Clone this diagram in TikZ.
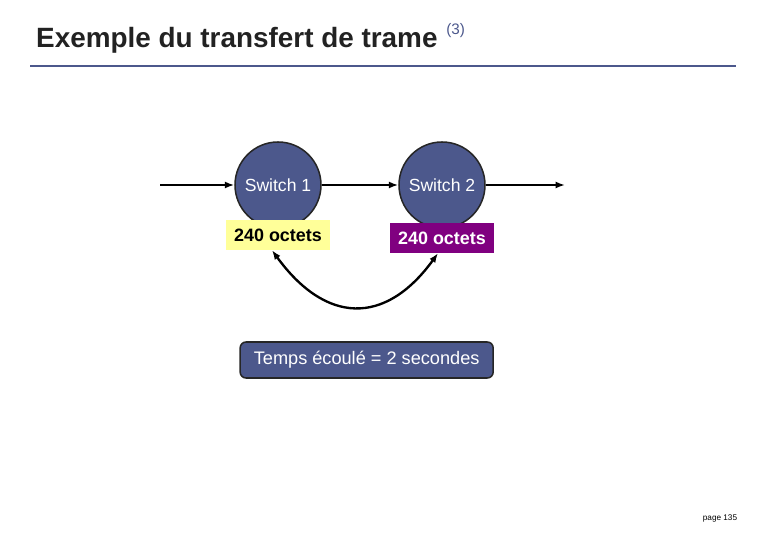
\documentclass[tikz,border=0pt]{standalone}
\usepackage{fontspec}
\setmainfont{Liberation Sans}
\usetikzlibrary{positioning,arrows.meta}

\definecolor{slateblue}{RGB}{76,88,140}
\definecolor{paleyellow}{RGB}{255,255,153}
\definecolor{darkpurple}{RGB}{128,0,128}
\definecolor{titlegray}{RGB}{34,34,34}

\begin{document}
\begin{tikzpicture}

	\tikzset{
	switchnode/.style={circle,draw=black!85,line width=1.3pt,fill=slateblue,text=white,minimum size=2.58cm,font=\fontsize{15}{17}\selectfont},
	bufbox/.style={minimum width=3.1cm,minimum height=0.9cm,inner sep=0pt,font=\fontsize{15.3}{17}\selectfont\bfseries},
	timebox/.style={rounded corners=5pt,draw=black!85,line width=1.3pt,fill=slateblue,text=white,minimum width=7.59cm,minimum height=1.08cm,font=\fontsize{15.5}{18}\selectfont},
	link/.style={line width=2pt,-{Latex[length=8pt,width=6pt]}}
	}

	\useasboundingbox (0,0) rectangle (23.4,16.2);

	% Title
	\node[anchor=base west,inner sep=0pt,text=titlegray,font=\fontsize{23.8}{27}\selectfont\bfseries] (title) at (1.08,14.76) {Exemple du transfert de trame};
	\node[anchor=base west,inner sep=0pt,text=slateblue,font=\fontsize{13}{15}\selectfont,xshift=0.25cm,yshift=0.4cm] (num) at (title.base east) {(3)};
	\coordinate (ruleL) at (0.9,14.22);
	\coordinate (ruleR) at (22.08,14.22);
	\draw[slateblue,line width=2.5pt] (ruleL) -- (ruleR);

	% Nodes
	\node[switchnode] (sw1) at (8.34,10.65) {Switch 1};
	\node[switchnode,node distance=4.92cm,right of=sw1] (sw2) {Switch 2};
	\coordinate[node distance=3.54cm,left of=sw1] (in);
	\coordinate[node distance=3.69cm,right of=sw2] (out);

	\node[bufbox,fill=paleyellow,text=black] (buf1) at (8.34,9.15) {240 octets};
	\node[bufbox,fill=darkpurple,text=white] (buf2) at (13.26,9.06) {240 octets};

	\node[timebox] (elapsed) at (11.0,5.4) {Temps écoulé = 2 secondes};

	\node[font=\fontsize{7}{8}\selectfont] (page) at (21.6,0.66) {page 135};

	% Lines
	\draw[link] (in) -- (sw1);
	\draw[link] (sw1) -- (sw2);
	\draw[link] (sw2) -- (out);
	\draw[line width=2pt,{Latex[length=8pt,width=6pt]}-{Latex[length=8pt,width=6pt]}] ([xshift=-0.18cm]buf1.south) .. controls +(1.6,-2.2) and +(-1.6,-2.2) .. ([xshift=-0.12cm]buf2.south);

\end{tikzpicture}
\end{document}
